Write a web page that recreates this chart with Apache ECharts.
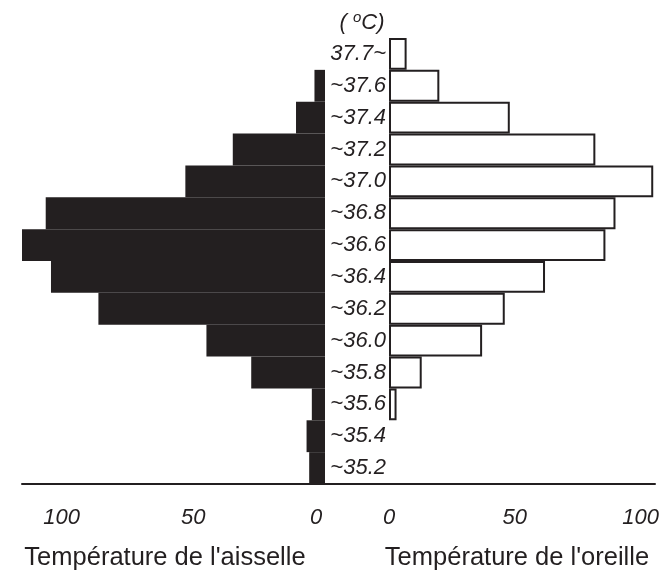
<!DOCTYPE html>
<html>
<head>
<meta charset="utf-8">
<script src="https://cdn.jsdelivr.net/npm/echarts@6/dist/echarts.min.js"></script>
<style>html,body{margin:0;padding:0;background:#fff;}#c{width:662px;height:573px;}</style>
</head>
<body>
<div id="c"></div>
<script>
const categories = ['37.7~','~37.6','~37.4','~37.2','~37.0','~36.8','~36.6','~36.4','~36.2','~36.0','~35.8','~35.6','~35.4','~35.2'];
const aisselle = [0, 4, 11, 35, 53, 106, 115, 104, 86, 45, 28, 5, 7, 6];
const oreille  = [7, 20, 48, 82, 105, 90, 86, 62, 46, 37, 13, 3, 0, 0];
const tickInterval = 50;
const nameLeft = "Température de l'aisselle";
const nameRight = "Température de l'oreille";

const INK = '#231f20';
const FONT = 'Liberation Sans, Arial, sans-serif';

const chart = echarts.init(document.getElementById('c'), null, {renderer: 'canvas'});

const tickLabel = {
  fontFamily: FONT, fontStyle: 'italic', fontSize: 22, color: INK, margin: 23,
  showMaxLabel: false
};

// empty bins are not drawn (no zero-width outline)
const asBars = arr => arr.map(v => v === 0 ? '-' : v);

chart.setOption({
  animation: false,
  backgroundColor: '#fff',
  title: [
    {
      text: '( {s|o}C)',
      left: 357, top: 5, textAlign: 'center',
      textStyle: {
        fontFamily: FONT, fontStyle: 'italic', fontSize: 22, fontWeight: 'normal', color: INK,
        rich: { s: { fontFamily: FONT, fontStyle: 'italic', fontSize: 15, color: INK, padding: [0, 0, 10, 0] } }
      }
    },
    {
      text: nameLeft, left: 160, top: 540, textAlign: 'center',
      textStyle: { fontFamily: FONT, fontSize: 25.5, fontWeight: 'normal', color: INK }
    },
    {
      text: nameRight, left: 512, top: 540, textAlign: 'center',
      textStyle: { fontFamily: FONT, fontSize: 25.5, fontWeight: 'normal', color: INK }
    }
  ],
  grid: [
    { left: 22, width: 303, top: 38, height: 446 },
    { left: 389, width: 266, top: 38, height: 446 },
    { left: 22, width: 633, top: 38, height: 446 }
  ],
  xAxis: [
    {
      gridIndex: 0, type: 'value', inverse: true, min: 0, max: 115, interval: tickInterval,
      axisLine: { show: false }, axisTick: { show: false }, splitLine: { show: false },
      axisLabel: Object.assign({}, tickLabel, {
        formatter: v => v === 0 ? '{z|0}' : String(v),
        rich: { z: { fontFamily: FONT, fontStyle: 'italic', fontSize: 22, color: INK, padding: [0, 18, 0, 0] } }
      })
    },
    {
      gridIndex: 1, type: 'value', min: 0, max: 105, interval: tickInterval,
      axisLine: { show: false }, axisTick: { show: false }, splitLine: { show: false },
      axisLabel: tickLabel
    },
    {
      gridIndex: 2, type: 'value', min: 0, max: 1,
      axisLine: { show: true, lineStyle: { color: INK, width: 2 } },
      axisTick: { show: false }, splitLine: { show: false }, axisLabel: { show: false }
    }
  ],
  yAxis: [
    {
      gridIndex: 0, type: 'category', data: categories, inverse: true,
      axisLine: { show: false }, axisTick: { show: false }, axisLabel: { show: false }
    },
    {
      gridIndex: 1, type: 'category', data: categories, inverse: true,
      axisLine: { show: false }, axisTick: { show: false },
      axisLabel: { fontFamily: FONT, fontStyle: 'italic', fontSize: 22, color: INK, margin: 3 }
    },
    {
      gridIndex: 2, type: 'category', data: categories, inverse: true, show: false
    }
  ],
  series: [
    {
      type: 'bar', xAxisIndex: 0, yAxisIndex: 0, data: asBars(aisselle),
      barCategoryGap: '0%', itemStyle: { color: INK }
    },
    {
      type: 'bar', xAxisIndex: 1, yAxisIndex: 1, data: asBars(oreille),
      barCategoryGap: '0%', itemStyle: { color: '#fff', borderColor: INK, borderWidth: 2 }
    }
  ]
});
</script>
</body>
</html>
